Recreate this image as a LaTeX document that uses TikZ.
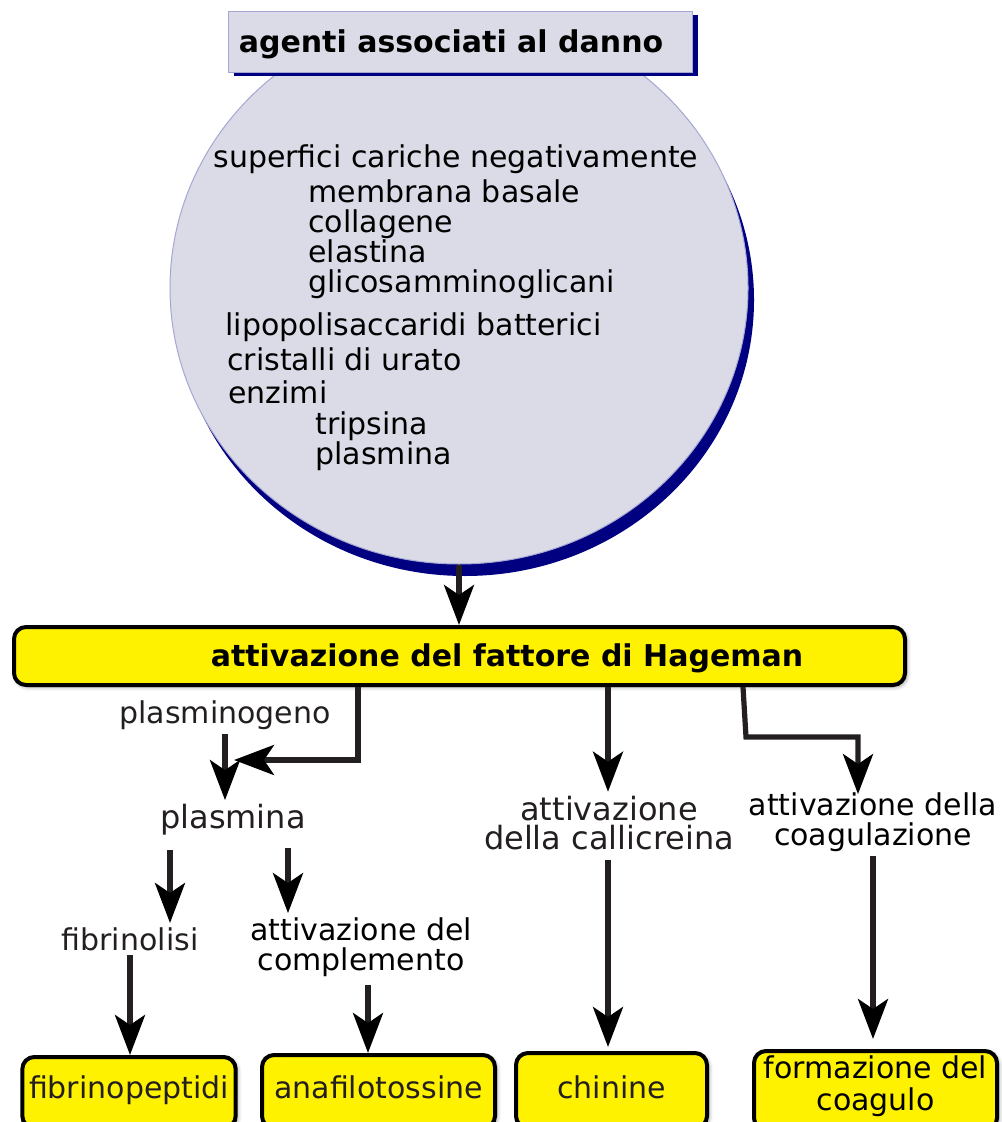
\documentclass[tikz,border=0pt]{standalone}
\usepackage{fontspec}
\setmainfont{DejaVu Sans}
\usetikzlibrary{arrows.meta,positioning,shapes.geometric,shadows,shadows.blur}
\definecolor{giallo}{HTML}{FFF200}
\definecolor{lilla}{HTML}{DADBE6}
\definecolor{blu}{HTML}{000080}
\definecolor{scuro}{HTML}{231F20}

\begin{document}
\begin{tikzpicture}[
       x=0.5pt, y=-0.5pt,
       font=\fontsize{15pt}{15pt}\selectfont,
       freccia/.style={
         draw=scuro,
         line width=2.6pt,
         -{Stealth[length=20pt,width=15pt,inset=5pt,color=black]}
       },
       blocco/.style={
         draw=black,
         fill=giallo,
         line width=2pt,
         rounded corners=6pt,
         inner ysep=0pt,
         text=scuro,
         blur shadow={shadow xshift=1pt, shadow yshift=-1pt, shadow blur radius=2pt}
       },
       voce/.style={
         anchor=west,
         inner sep=0pt,
         text height=11pt,
         text depth=1pt
       },
       etichetta/.style={
         align=center,
         inner sep=2pt,
         text=scuro
       }
     ]
  \useasboundingbox (0,0) rectangle (1001,1122);

  % agenti
  \node (cerchio) at (459,288) [ellipse, fill=lilla, draw=blu!35, line width=0.5pt,
        minimum width=289pt, minimum height=276pt,
        drop shadow={fill=blu, opacity=1, shadow xshift=3pt, shadow yshift=-6pt}] {};
  \node (titolo) at (460,42) [rectangle, fill=lilla, draw=blu!35, line width=0.5pt,
        minimum width=232pt, minimum height=30.5pt,
        text height=14pt, text depth=3.6pt,
        font=\fontsize{15pt}{15pt}\selectfont\bfseries,
        drop shadow={fill=blu, opacity=1, shadow xshift=3pt, shadow yshift=-2pt}]
        {agenti associati al danno\hspace*{9pt}};

  \node (r1) at (213,158) [voce] {superfici cariche negativamente};
  \node (r2) at (308,193) [voce] {membrana basale};
  \node (r3) at (308,223) [voce] {collagene};
  \node (r4) at (308,253) [voce] {elastina};
  \node (r5) at (308,283) [voce] {glicosamminoglicani};
  \node (r6) at (225,326) [voce] {lipopolisaccaridi batterici};
  \node (r7) at (227,361) [voce] {cristalli di urato};
  \node (r8) at (228,393) [voce] {enzimi};
  \node (r9) at (315,424) [voce] {tripsina};
  \node (r10) at (315,454) [voce] {plasmina};

  % fattore di Hageman
  \node (hageman) at (459.5,656) [blocco, minimum width=445.5pt, minimum height=29pt,
        text=black, text height=14pt, text depth=3.6pt,
        font=\fontsize{15pt}{15pt}\selectfont\bfseries]
        {\hspace*{47.5pt}attivazione del fattore di Hageman};

  \draw[freccia] (cerchio.south) -- (cerchio.south |- hageman.north);

  % passaggi intermedi
  \node (plasminogeno) at (225,715) [etichetta] {plasminogeno};
  \node (plasmina) at (233,820) [etichetta, font=\fontsize{16pt}{16pt}\selectfont] {plasmina};
  \node (fibrinolisi) at (130,939) [etichetta] {fibrinolisi};
  \node (complemento) at (361,947) [etichetta, text=black] {attivazione del\\complemento};
  \node (callicreina) at (609,823) [etichetta, font=\fontsize{16pt}{14.5pt}\selectfont]
        {attivazione\\della callicreina};
  \node (coagulazione) at (873,822) [etichetta, text=black] {attivazione della\\coagulazione};

  % prodotti finali
  \node (fibrinopeptidi) at (129,1055) [blocco, anchor=north, minimum width=106pt,
        text height=20.5pt, text depth=15pt] {fibrinopeptidi};
  \node (anafilotossine) at (378.5,1053) [blocco, anchor=north, minimum width=116.5pt,
        text height=21.5pt, text depth=15pt] {anafilotossine};
  \node (chinine) at (611.5,1051) [blocco, anchor=north, minimum width=95.5pt,
        text height=22.5pt, text depth=15pt] {chinine};
  \node (formazione) at (875.5,1049) [blocco, anchor=north, minimum width=121.5pt,
        align=center, text=black, text height=29.5pt, text depth=10pt]
        {formazione del\\[1pt]coagulo};

  \coordinate (snodo) at (234,760);

  \draw[freccia] (358,0 |- hageman.south) |- (snodo);
  \draw[freccia] (plasminogeno.south) -- (plasminogeno.south |- plasmina.north);
  \draw[freccia, shorten <=5pt] (170,0 |- plasmina.south) -- (170,0 |- fibrinolisi.north);
  \draw[freccia, shorten <=4pt] (288,0 |- plasmina.south) -- (288,0 |- complemento.north);
  \draw[freccia] (fibrinolisi.south) -- (fibrinolisi.south |- fibrinopeptidi.north);
  \draw[freccia, shorten <=2pt] (368,0 |- complemento.south) -- (368,0 |- anafilotossine.north);

  \draw[freccia] (608,0 |- hageman.south) -- (608,0 |- callicreina.north);
  \draw[freccia, shorten <=3pt, shorten >=2pt] (608,0 |- callicreina.south) -- (608,0 |- chinine.north);

  \draw[freccia, shorten >=-3pt] (743,0 |- hageman.south) -- (746,737) -| (858,0 |- coagulazione.north);
  \draw[freccia, shorten >=5pt] (coagulazione.south) -- (coagulazione.south |- formazione.north);

\end{tikzpicture}
\end{document}
